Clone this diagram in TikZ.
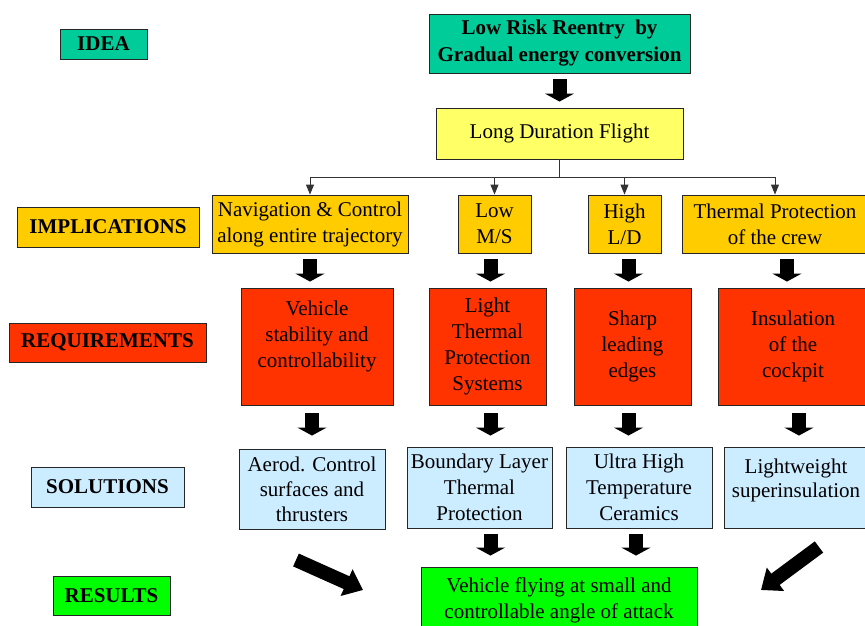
\documentclass[tikz,border=0pt]{standalone}
\usepackage{fontspec}
\setmainfont{Liberation Serif}
\usetikzlibrary{arrows.meta,calc}
\definecolor{cteal}{HTML}{00CC99}
\definecolor{cyel}{HTML}{FFFF66}
\definecolor{corange}{HTML}{FFCC00}
\definecolor{cred}{HTML}{FF3300}
\definecolor{cblue}{HTML}{CCECFF}
\definecolor{cgreen}{HTML}{00FF00}
\tikzset{
  box/.style={draw=black!85, line width=0.9pt, inner sep=0pt, align=center,
    font=\fontsize{21}{26}\selectfont},
  lbl/.style={box, font=\fontsize{21}{24}\selectfont\bfseries},
  fat/.style={line width=14pt, -{Triangle[width=29pt,length=8pt]}},
  bigfat/.style={line width=14pt, -{Triangle[width=28pt,length=18pt]}},
  thin/.style={draw=black!80, line width=0.9pt, -{Triangle[width=8pt,length=10pt]}}
}
\begin{document}
\begin{tikzpicture}[x=1pt,y=-1pt]
\useasboundingbox (0,0) rectangle (865,626);
% labels
\node[lbl, fill=cteal, minimum width=87, minimum height=30] (idea) at (103.5,44) {IDEA};
\node[lbl, fill=corange, minimum width=182, minimum height=40] (implbl) at (108,227) {IMPLICATIONS};
\node[lbl, fill=cred, minimum width=197, minimum height=39] (reqlbl) at (107.5,342.5) {REQUIREMENTS};
\node[lbl, fill=cblue, minimum width=153, minimum height=40] (sollbl) at (107.5,487) {SOLUTIONS};
\node[lbl, fill=cgreen, minimum width=117, minimum height=39] (reslbl) at (111.5,595.5) {RESULTS};
% idea
\node[box, fill=cteal, minimum width=261, minimum height=59, font=\fontsize{21}{27}\selectfont\bfseries] (top) at (559.5,43.5) {Low Risk Reentry~ by\\Gradual energy conversion};
\node[box, fill=cyel, minimum width=247, minimum height=51] (ldf) at (559.5,133.5) {Long Duration Flight};
% implications
\node[box, fill=corange, minimum width=196, minimum height=58] (imp1) at (310,224) {Navigation \& Control\\along entire trajectory};
\node[box, fill=corange, minimum width=73, minimum height=58] (imp2) at (494.5,224) {Low\\M/S};
\node[box, fill=corange, minimum width=73, minimum height=58] (imp3) at (624.5,224) {High\\L/D};
\node[box, fill=corange, minimum width=186, minimum height=58] (imp4) at (775,224) {Thermal Protection\\of the crew};
% requirements
\node[box, fill=cred, minimum width=152, minimum height=117] (req1) at (317,346.5) {Vehicle\\stability and\\controllability\\[-2pt]~};
\node[box, fill=cred, minimum width=117, minimum height=117] (req2) at (487.5,346.5) {Light\\Thermal\\Protection\\Systems};
\node[box, fill=cred, minimum width=117, minimum height=117] (req3) at (632.5,346.5) {Sharp\\leading\\edges};
\node[box, fill=cred, minimum width=150, minimum height=117] (req4) at (793,346.5) {Insulation\\of the\\cockpit};
% solutions
\node[box, fill=cblue, minimum width=146, minimum height=80, font=\fontsize{21}{25}\selectfont] (sol1) at (312,489) {Aerod. Control\\surfaces and\\thrusters};
\node[box, fill=cblue, minimum width=145, minimum height=81] (sol2) at (479.5,487.5) {Boundary Layer\\Thermal\\Protection};
\node[box, fill=cblue, minimum width=146, minimum height=81] (sol3) at (639,487.5) {Ultra High\\Temperature\\Ceramics};
\node[box, fill=cblue, minimum width=144, minimum height=81, font=\fontsize{21}{24}\selectfont] (sol4) at (796,487.5) {Lightweight\\superinsulation\\[-6pt]~};
% result
\node[box, fill=cgreen, minimum width=276, minimum height=66] (res) at (559,600) {Vehicle flying at small and\\controllable angle of attack};
% tree connector
\coordinate (j) at ($(ldf.south)+(0,18)$);
\draw[draw=black!80, line width=0.9pt] (ldf.south) -- (j);
\draw[thin] (j) -| (imp1.north);
\draw[thin] (j) -| (imp2.north);
\draw[thin] (j) -| (imp3.north);
\draw[thin] (j) -| (imp4.north);
% fat arrows (yshift is in canvas units: negative = down)
\draw[fat] ([yshift=-6]top.south) -- ([yshift=6]ldf.north);
\draw[fat] ([yshift=-6]imp1.south) -- ([yshift=6]imp1.south |- req1.north);
\draw[fat] ([xshift=-4,yshift=-6]imp2.south) -- ([xshift=-4,yshift=6]imp2.south |- req2.north);
\draw[fat] ([xshift=-4,yshift=-6]req3.north |- imp3.south) -- ([xshift=-4,yshift=6]req3.north);
\draw[fat] ([xshift=-6,yshift=-6]req4.north |- imp4.south) -- ([xshift=-6,yshift=6]req4.north);
\draw[fat] ([yshift=-8]sol1.north |- req1.south) -- ([yshift=13]sol1.north);
\draw[fat] ([xshift=3,yshift=-8]req2.south) -- ([xshift=3,yshift=11]req2.south |- sol2.north);
\draw[fat] ([xshift=-4,yshift=-8]req3.south) -- ([xshift=-4,yshift=11]req3.south |- sol3.north);
\draw[fat] ([xshift=3,yshift=-8]sol4.north |- req4.south) -- ([xshift=3,yshift=11]sol4.north);
\draw[fat] ([xshift=11,yshift=-6]sol2.south) -- ([xshift=11,yshift=11]sol2.south |- res.north);
\draw[fat] ([xshift=-3,yshift=-6]sol3.south) -- ([xshift=-3,yshift=11]sol3.south |- res.north);
% diagonal arrows
\coordinate (dl1) at (296,560);
\coordinate (dl2) at (363,590);
\coordinate (dr1) at (819,547);
\coordinate (dr2) at (761,590);
\draw[bigfat] (dl1) -- (dl2);
\draw[bigfat] (dr1) -- (dr2);
\end{tikzpicture}
\end{document}
